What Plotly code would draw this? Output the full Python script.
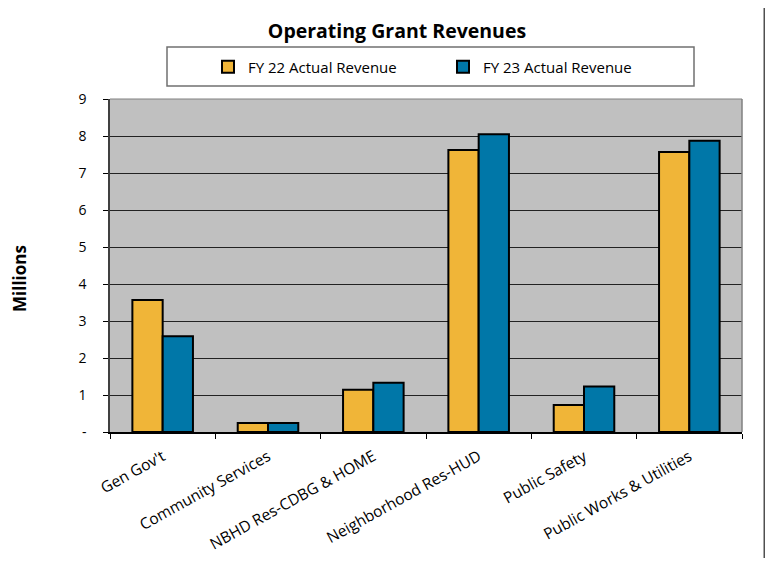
import plotly.graph_objects as go

categories = ["Gen Gov't", "Community Services", "NBHD Res-CDBG & HOME",
              "Neighborhood Res-HUD", "Public Safety", "Public Works & Utilities"]
fy22 = [3.57, 0.24, 1.14, 7.62, 0.73, 7.57]
fy23 = [2.59, 0.24, 1.33, 8.05, 1.23, 7.87]
series_names = ["FY 22 Actual Revenue", "FY 23 Actual Revenue"]
y_tickvals = [0, 1, 2, 3, 4, 5, 6, 7, 8, 9]
y_ticktext = ["-", "1", "2", "3", "4", "5", "6", "7", "8", "9"]

# page adds an 8px body margin, so the figure is drawn a bit smaller and shifted
OFF = 8
W, H = 773 - OFF, 566 - 2 * OFF
L, R, T, B = 110, 742, 99, 432   # plot area in screen px

def px_x(p): return (p - L) / (R - L)
def px_y(p): return (B - p) / (B - T)

fig = go.Figure()
for name, vals, col in zip(series_names, [fy22, fy23], ["#F0B538", "#0077A8"]):
    fig.add_trace(go.Bar(x=categories, y=vals, name=name,
                         marker=dict(color=col, line=dict(color="black", width=2))))

shapes = [
    # outer chart frame, right edge
    dict(type="line", xref="paper", yref="paper", x0=px_x(765), x1=px_x(765), y0=px_y(575), y1=px_y(0),
         line=dict(color="#505050", width=3)),
    # legend box
    dict(type="rect", xref="paper", yref="paper", x0=px_x(167), x1=px_x(694), y0=px_y(86), y1=px_y(47),
         line=dict(color="#707070", width=1.5)),
    # plot border top/right
    dict(type="line", xref="paper", yref="paper", x0=0, x1=1, y0=1, y1=1, line=dict(color="#808080", width=1)),
    dict(type="line", xref="paper", yref="paper", x0=1, x1=1, y0=0, y1=1, line=dict(color="#808080", width=1.5)),
]

fig.update_layout(
    width=W, height=H,
    margin=dict(l=L - OFF, r=W - (R - OFF), t=T - OFF, b=H - (B - OFF), autoexpand=False),
    paper_bgcolor="white", plot_bgcolor="#C0C0C0",
    font=dict(family="Open Sans", color="black", size=14),
    title=dict(text="<b>Operating Grant Revenues</b>", x=(397 - OFF) / W, xanchor="center",
               y=1 - (31 - OFF) / H, yanchor="middle", font=dict(size=19.5, color="black")),
    barmode="group", bargap=0.425, bargroupgap=0,
    showlegend=True,
    legend=dict(orientation="h", x=px_x(208), xanchor="left", y=px_y(67), yanchor="middle",
                bgcolor="rgba(0,0,0,0)", borderwidth=0, itemwidth=30, entrywidth=190,
                font=dict(size=15), itemclick=False),
    xaxis=dict(tickangle=-29, tickfont=dict(size=15.5), ticks="outside", tickson="boundaries",
               ticklen=5, tickcolor="black", showline=True, linecolor="black", linewidth=1.5,
               showgrid=False, ticklabelstandoff=8, automargin=False),
    yaxis=dict(range=[0, 9], tickvals=y_tickvals, ticktext=y_ticktext, ticks="outside",
               ticklen=5, tickcolor="black", showline=True, linecolor="#404040", linewidth=1.5,
               showgrid=True, gridcolor="#222222", gridwidth=1, zeroline=False,
               ticklabelstandoff=14, tickfont=dict(size=14), automargin=False),
    shapes=shapes,
    annotations=[dict(text="<b>Millions</b>", textangle=-90, xref="paper", yref="paper",
                      x=px_x(19), y=px_y(279), xanchor="center", yanchor="middle",
                      showarrow=False, font=dict(size=17))],
)

fig.write_html("out.html")
